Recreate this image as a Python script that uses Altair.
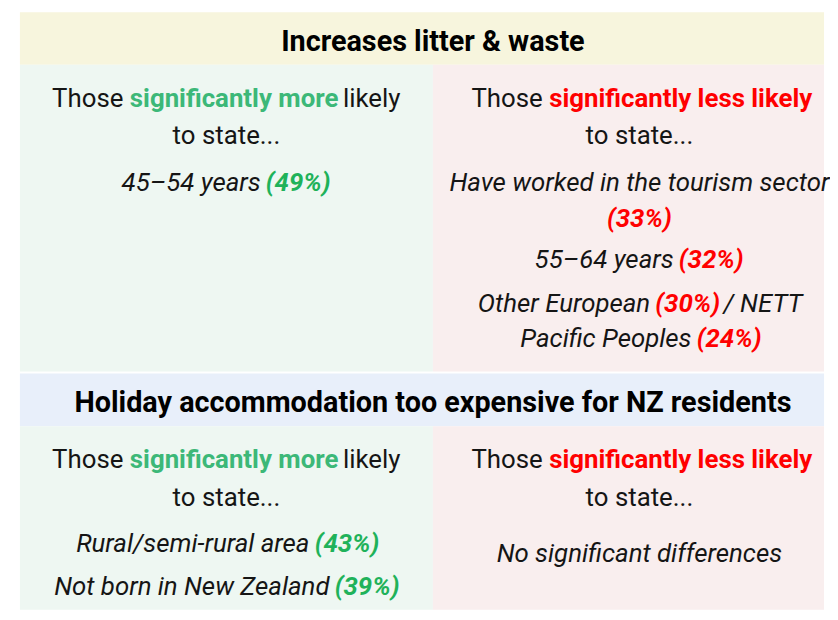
import altair as alt
import pandas as pd

# ---------------- content ----------------
titles = ["Increases litter & waste",
          "Holiday accommodation too expensive for NZ residents"]
lead_more = ["Those", "significantly more", "likely", "to state..."]
lead_less = ["Those", "significantly less likely", "to state..."]

sec1_more_groups = ["45–54 years"]
sec1_more_pct = [49]
sec1_less_groups = ["Have worked in the tourism sector", "55–64 years",
                    "Other European", "NETT Pacific Peoples"]
sec1_less_pct = [33, 32, 30, 24]

sec2_more_groups = ["Rural/semi-rural area", "Not born in New Zealand"]
sec2_more_pct = [43, 39]
sec2_less_text = "No significant differences"

# ---------------- styling ----------------
FONT = "Roboto"
TITLE_SIZE = 29
BODY_SIZE = 26
INK = "#151515"
GREEN_HEAD = "#3cb878"
GREEN_PCT = "#1fb25a"
RED = "#ff0000"

# approximate Roboto advance widths (em)
W = {' ': .248, 'a': .544, 'b': .561, 'c': .523, 'd': .564, 'e': .530, 'f': .347,
     'g': .561, 'h': .551, 'i': .243, 'j': .239, 'k': .507, 'l': .243, 'm': .876,
     'n': .552, 'o': .570, 'p': .561, 'q': .568, 'r': .338, 's': .516, 't': .327,
     'u': .551, 'v': .484, 'w': .751, 'x': .495, 'y': .473, 'z': .495,
     'A': .652, 'B': .624, 'C': .651, 'D': .656, 'E': .568, 'F': .552, 'G': .681,
     'H': .697, 'I': .266, 'J': .551, 'K': .626, 'L': .538, 'M': .853, 'N': .696,
     'O': .688, 'P': .631, 'Q': .688, 'R': .615, 'S': .593, 'T': .597, 'U': .633,
     'V': .637, 'W': .868, 'X': .626, 'Y': .600, 'Z': .598,
     '%': .716, '&': .608, '(': .334, ')': .339, '.': .263, '/': .403, '–': .56,
     '-': .276}
for d in "0123456789":
    W[d] = .561

STYLES = {
    # name: (size, weight, italic, color, width factor)
    "title": (TITLE_SIZE, "bold", "normal", "#000000", 1.0),
    "norm": (BODY_SIZE, "normal", "normal", INK, 1.0),
    "more": (BODY_SIZE, "bold", "normal", GREEN_HEAD, 1.01),
    "less": (BODY_SIZE, "bold", "normal", RED, 1.01),
    "item": (BODY_SIZE, "normal", "italic", INK, 0.97),
    "pmore": (BODY_SIZE, "bold", "italic", GREEN_PCT, 0.97),
    "pless": (BODY_SIZE, "bold", "italic", RED, 0.97),
}


def text_w(s, style):
    size, _, _, _, f = STYLES[style]
    return sum(W.get(c, .55) for c in s) * size * f


rows = []


def add_line(segments, cx, y, gap=W[' ']):
    """Single segments are centred; in multi-segment lines the first one is
    right-aligned at its estimated end and the rest follow left-aligned."""
    if len(segments) == 1:
        t, s = segments[0]
        rows.append(dict(text=t, style=s, x=cx, y=y, align="center",
                         color=STYLES[s][3]))
        return
    space = gap * BODY_SIZE
    total = sum(text_w(t, s) for t, s in segments) + space * (len(segments) - 1)
    x = cx - total / 2
    for i, (t, s) in enumerate(segments):
        w = text_w(t, s)
        if i == 0:
            rows.append(dict(text=t, style=s, x=x + w, y=y, align="right",
                             color=STYLES[s][3]))
        else:
            rows.append(dict(text=t, style=s, x=x, y=y, align="left",
                             color=STYLES[s][3]))
        x += w + space


def pct(v):
    return f"({v}%)"


# layout constants (pixel page coordinates)
BOX_L, BOX_M, BOX_R = 20, 436, 852
CX_L, CX_R, CX_T = (BOX_L + BOX_M) / 2, (BOX_M + BOX_R) / 2, (BOX_L + BOX_R) / 2
IG = 0.2  # tighter gap between a group and its percentage

# section 1
add_line([(titles[0], "title")], CX_T, 49)
add_line([(lead_more[0], "norm"), (lead_more[1], "more"), (lead_more[2], "norm")], CX_L, 106)
add_line([(lead_more[3], "norm")], CX_L, 143)
add_line([(lead_less[0], "norm"), (lead_less[1], "less")], CX_R, 106)
add_line([(lead_less[2], "norm")], CX_R, 143)
add_line([(sec1_more_groups[0], "item"), (pct(sec1_more_pct[0]), "pmore")], CX_L, 190, IG)
add_line([(sec1_less_groups[0], "item")], CX_R, 190)
add_line([(pct(sec1_less_pct[0]), "pless")], CX_R, 226)
add_line([(sec1_less_groups[1], "item"), (pct(sec1_less_pct[1]), "pless")], CX_R, 268, IG)
first, rest = sec1_less_groups[3].split(" ", 1)
add_line([(sec1_less_groups[2], "item"), (pct(sec1_less_pct[2]), "pless"),
          ("/ " + first, "item")], CX_R, 312, IG)
add_line([(rest, "item"), (pct(sec1_less_pct[3]), "pless")], CX_R, 347, IG)

# section 2
add_line([(titles[1], "title")], CX_T, 413)
add_line([(lead_more[0], "norm"), (lead_more[1], "more"), (lead_more[2], "norm")], CX_L, 469)
add_line([(lead_more[3], "norm")], CX_L, 507)
add_line([(lead_less[0], "norm"), (lead_less[1], "less")], CX_R, 469)
add_line([(lead_less[2], "norm")], CX_R, 507)
add_line([(sec2_more_groups[0], "item"), (pct(sec2_more_pct[0]), "pmore")], CX_L, 554, IG)
add_line([(sec2_more_groups[1], "item"), (pct(sec2_more_pct[1]), "pmore")], CX_L, 597, IG)
add_line([(sec2_less_text, "item")], CX_R, 564)

text_df = pd.DataFrame(rows)

bg_df = pd.DataFrame([
    dict(x=BOX_L, x2=BOX_R, y=10, y2=63, fill="#f7f5dd"),
    dict(x=BOX_L, x2=BOX_M, y=63, y2=372, fill="#eef7f2"),
    dict(x=BOX_M, x2=BOX_R, y=63, y2=372, fill="#f9eeee"),
    dict(x=BOX_L, x2=BOX_R, y=374, y2=427, fill="#e8effa"),
    dict(x=BOX_L, x2=BOX_M, y=427, y2=640, fill="#eef7f2"),
    dict(x=BOX_M, x2=BOX_R, y=427, y2=640, fill="#f9eeee"),
])

# plot area spans page pixels 8..830 x 8..612 (fits the window with the 8px margin)
xs = alt.Scale(domain=[8, 830], nice=False, zero=False)
ys = alt.Scale(domain=[612, 8], nice=False, zero=False)

bg = alt.Chart(bg_df).mark_rect(clip=True).encode(
    x=alt.X("x:Q", scale=xs, axis=None),
    x2="x2:Q",
    y=alt.Y("y:Q", scale=ys, axis=None),
    y2="y2:Q",
    color=alt.Color("fill:N", scale=None),
)

layers = [bg]
for name, (size, weight, ital, color, _) in STYLES.items():
    for al in ["left", "center", "right"]:
        sub = text_df[(text_df["style"] == name) & (text_df["align"] == al)]
        if sub.empty:
            continue
        layers.append(
            alt.Chart(sub).mark_text(font=FONT, fontSize=size, fontWeight=weight,
                                     fontStyle=ital, align=al, baseline="alphabetic")
            .encode(
                x=alt.X("x:Q", scale=xs, axis=None),
                y=alt.Y("y:Q", scale=ys, axis=None),
                text="text:N",
                color=alt.Color("color:N", scale=None),
            )
        )

chart = alt.layer(*layers).properties(
    width=822, height=604, padding=0, background="white"
).configure_view(stroke=None)

chart.save("out.html", embed_options={"renderer": "svg", "actions": False})
